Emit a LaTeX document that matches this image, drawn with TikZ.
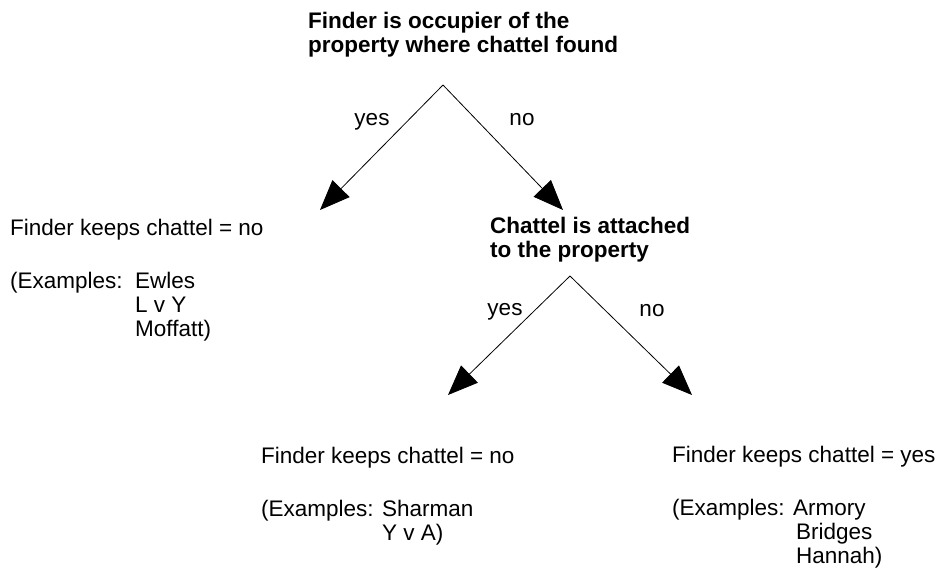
\documentclass[tikz,border=0pt]{standalone}
\usepackage{fontspec}
\setmainfont{Liberation Sans}
\usetikzlibrary{arrows.meta}
\begin{document}
\begin{tikzpicture}[x=1pt, y=-1pt, inner sep=0pt,
  every node/.style={font=\fontsize{22.5}{24}\selectfont},
  q/.style={anchor=base west, align=left, font=\fontsize{22.5}{24}\selectfont\bfseries},
  res/.style={anchor=base west, align=left},
  lbl/.style={anchor=center},
  arr/.style={line width=0.8pt, -{Triangle[length=30pt,width=24pt]}}]
\useasboundingbox (0,0) rectangle (938,573);
% multi-line nodes sit on the baseline of their last line
\node[q] (1) at (308,52) {Finder is occupier of the\\property where chattel found};
\coordinate (1s) at (443,85);
\coordinate (1y) at (320,210);
\coordinate (1n) at (563,210);
\node[res] (2) at (10,336) {Finder keeps chattel = no\\[29pt](Examples:\ \ Ewles\\\hspace*{125pt}L v Y\\\hspace*{125pt}Moffatt)};
\node[q] (3) at (490,257) {Chattel is attached\\to the property};
\coordinate (3s) at (570,276);
\coordinate (3y) at (448,395);
\coordinate (3n) at (692,395);
\node[res] (4) at (261,540) {Finder keeps chattel = no\\[29pt](Examples: Sharman\\\hspace*{121pt}Y v A)};
\node[res] (5) at (672,563) {Finder keeps chattel = yes\\[29pt](Examples: Armory\\\hspace*{124pt}Bridges\\\hspace*{124pt}Hannah)};
\node[lbl] (y1) at (372,122) {yes};
\node[lbl] (n1) at (522,120) {no};
\node[lbl] (y2) at (505,312) {yes};
\node[lbl] (n2) at (652,311) {no};
\draw[arr] (1s) -- (1y);
\draw[arr] (1s) -- (1n);
\draw[arr] (3s) -- (3y);
\draw[arr] (3s) -- (3n);
\end{tikzpicture}
\end{document}
